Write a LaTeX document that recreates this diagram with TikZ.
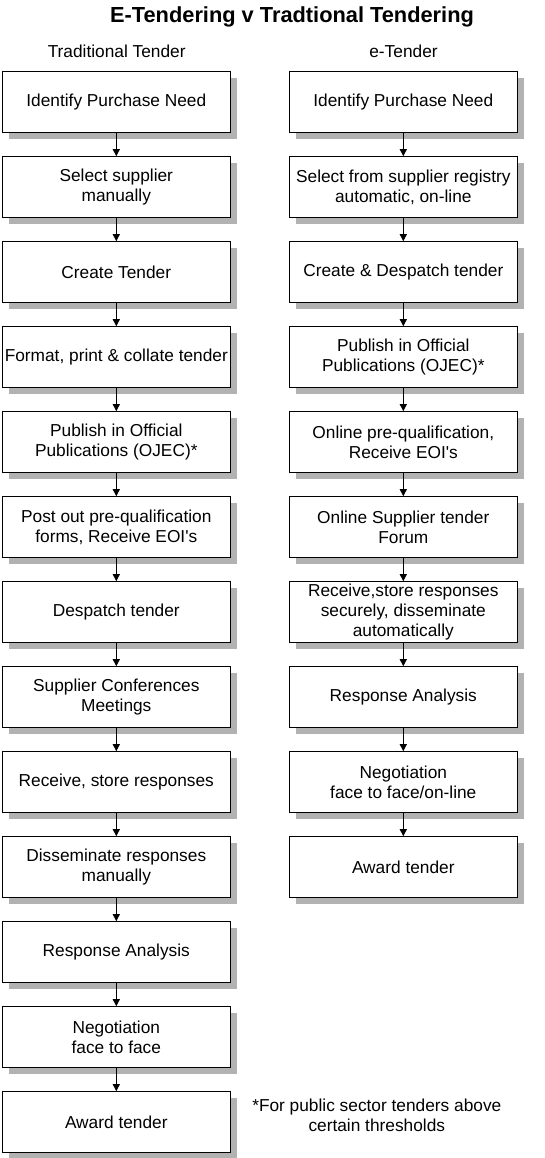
\documentclass[tikz,border=0pt]{standalone}
\usepackage{fontspec}
\setmainfont{Liberation Sans}
\usetikzlibrary{arrows.meta,shadows}
\begin{document}
\begin{tikzpicture}[x=1pt,y=-1pt,
  stepbox/.style={draw=black,line width=1pt,fill=white,minimum width=228pt,minimum height=61pt,
    inner sep=0pt,align=center,font=\fontsize{17.3}{20}\selectfont,
    drop shadow={shadow xshift=6.5pt,shadow yshift=-6.5pt,fill=black!30,opacity=1}},
  flow/.style={line width=1pt,-{Triangle[width=7pt,length=7pt]}},
  plain/.style={font=\fontsize{17.3}{20}\selectfont,align=center,inner sep=0pt}]
\useasboundingbox (0,0) rectangle (545,1158);

% title and column headings
\node[anchor=base,inner sep=0pt,font=\fontsize{21.8}{26}\selectfont\bfseries] (title) at (292,22.5) {E-Tendering v Tradtional Tendering};
\node[plain,anchor=base] (hl) at (116.7,57.5) {Traditional Tender};
\node[plain,anchor=base] (hr) at (403.5,57.5) {e-Tender};

% traditional tender column
\node[stepbox] (l1)  at (116.3,102.2)  {Identify Purchase Need};
\node[stepbox] (l2)  at (116.3,187.2)  {Select supplier\\manually};
\node[stepbox] (l3)  at (116.3,272.2)  {Create Tender};
\node[stepbox] (l4)  at (116.3,357.2)  {Format, print \& collate tender};
\node[stepbox] (l5)  at (116.3,442.2)  {Publish in Official\\Publications (OJEC)*};
\node[stepbox] (l6)  at (116.3,527.2)  {Post out pre-qualification\\forms, Receive EOI\textquotesingle s};
\node[stepbox] (l7)  at (116.3,612.2)  {Despatch tender};
\node[stepbox] (l8)  at (116.3,697.2)  {Supplier Conferences\\Meetings};
\node[stepbox] (l9)  at (116.3,782.2)  {Receive, store responses};
\node[stepbox] (l10) at (116.3,867.2)  {Disseminate responses\\manually};
\node[stepbox] (l11) at (116.3,952.2)  {Response Analysis};
\node[stepbox] (l12) at (116.3,1037.2) {Negotiation\\face to face};
\node[stepbox] (l13) at (116.3,1122.2) {Award tender};

% e-tender column
\node[stepbox] (r1) at (403.3,102.2) {Identify Purchase Need};
\node[stepbox] (r2) at (403.3,187.2) {Select from supplier registry\\automatic, on-line};
\node[stepbox] (r3) at (403.3,272.2) {Create \& Despatch tender};
\node[stepbox] (r4) at (403.3,357.2) {Publish in Official\\Publications (OJEC)*};
\node[stepbox] (r5) at (403.3,442.2) {Online pre-qualification,\\Receive EOI\textquotesingle s};
\node[stepbox] (r6) at (403.3,527.2) {Online Supplier tender\\Forum};
\node[stepbox] (r7) at (403.3,612.2) {Receive,store responses\\securely, disseminate\\automatically};
\node[stepbox] (r8) at (403.3,697.2) {Response Analysis};
\node[stepbox] (r9) at (403.3,782.2) {Negotiation\\face to face/on-line};
\node[stepbox] (r10) at (403.3,867.2) {Award tender};

% footnote
\node[plain] (note) at (376.8,1115) {*For public sector tenders above\\certain thresholds};

% connectors
\foreach \a/\b in {1/2,2/3,3/4,4/5,5/6,6/7,7/8,8/9,9/10,10/11,11/12,12/13}
  \draw[flow] (l\a.south) -- (l\b.north);
\foreach \a/\b in {1/2,2/3,3/4,4/5,5/6,6/7,7/8,8/9,9/10}
  \draw[flow] (r\a.south) -- (r\b.north);
\end{tikzpicture}
\end{document}
